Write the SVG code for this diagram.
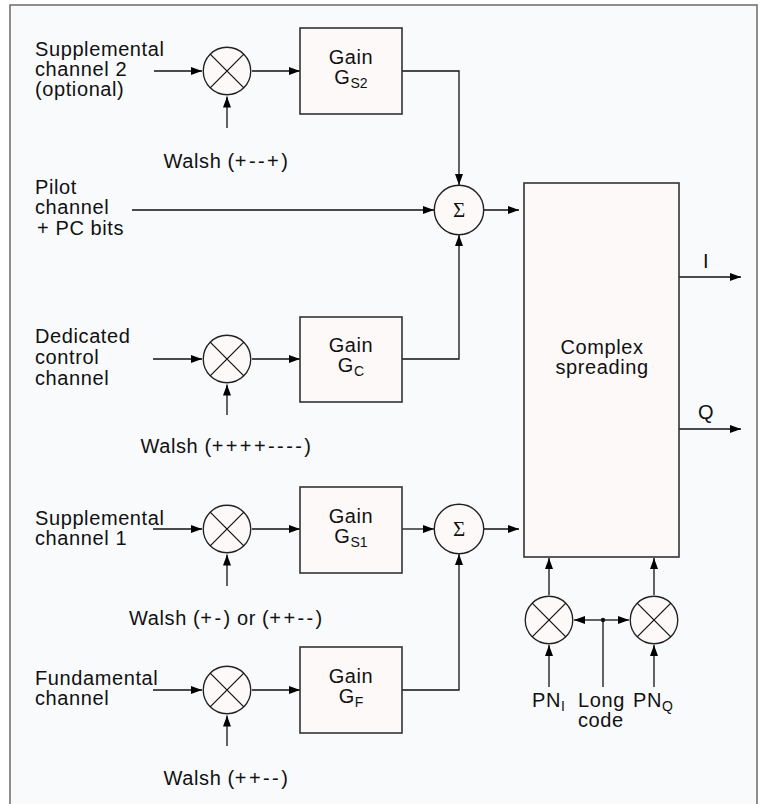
<svg xmlns="http://www.w3.org/2000/svg" width="760" height="804" viewBox="0 0 760 804">
<defs>
<marker id="ah" viewBox="0 0 11 8" refX="11" refY="4" markerWidth="11" markerHeight="8" orient="auto-start-reverse" markerUnits="userSpaceOnUse"><path d="M0,0 L11,4 L0,8 z" fill="#000"/></marker>
<symbol id="mult" viewBox="-26 -26 52 52" overflow="visible"><circle r="24.7" class="node"/><path d="M-17.5,-17.5 L17.5,17.5 M17.5,-17.5 L-17.5,17.5" stroke="#111" stroke-width="1.3"/></symbol>
</defs>
<style>
.bg{fill:#f8fafc;stroke:#6b6b6b;stroke-width:1.5}
.node{fill:#fdf9f9;stroke:#222;stroke-width:1.4}
.box{fill:#fdf9f9;stroke:#333;stroke-width:1.6}
.c{fill:none;stroke:#111;stroke-width:1.3}
.a{marker-end:url(#ah)}
.t{font-family:"Liberation Sans",Arial,sans-serif;font-size:20px;letter-spacing:0.6px;fill:#111}
.m{text-anchor:middle}
.sub{font-size:14px;letter-spacing:0}
.sg{letter-spacing:2.4px}
.sig{font-family:"Liberation Serif","DejaVu Serif",serif;font-size:21px;fill:#111;text-anchor:middle}
</style>
<rect x="10" y="5" width="747" height="820" class="bg"/>

<g id="connectors">
<path class="c a" d="M154,71 H202"/>
<path class="c a" d="M227,128 V96.5"/>
<path class="c a" d="M252,71 H300"/>
<path class="c a" d="M402,71 H459 V185"/>
<path class="c a" d="M132,210 H434"/>
<path class="c a" d="M484,210 H519"/>
<path class="c a" d="M153,359 H202"/>
<path class="c a" d="M227,415 V384.5"/>
<path class="c a" d="M252,359 H300"/>
<path class="c a" d="M402,359 H459 V235"/>
<path class="c a" d="M153,529 H202"/>
<path class="c a" d="M227,586 V554.5"/>
<path class="c a" d="M252,529 H300"/>
<path class="c a" d="M402,529 H434"/>
<path class="c a" d="M484,529 H519"/>
<path class="c a" d="M153,690 H202"/>
<path class="c a" d="M227,746 V715.5"/>
<path class="c a" d="M252,690 H300"/>
<path class="c a" d="M402,690 H459 V554"/>
<path class="c a" d="M679,277 H741"/>
<path class="c a" d="M679,429 H741"/>
<path class="c a" d="M549,595 V558"/>
<path class="c a" d="M654,595 V558"/>
<path class="c a" d="M549,687 V645"/>
<path class="c a" d="M654,687 V645"/>
<path class="c" d="M603,620 V687"/>
<path class="c a" d="M603,620 H574"/>
<path class="c a" d="M603,620 H629"/>
<circle cx="603" cy="620" r="2.2" fill="#111"/>
</g>

<g id="in-sup2"><text class="t" x="35" y="56">Supplemental</text><text class="t" x="35" y="76">channel 2</text><text class="t" x="35" y="96">(optional)</text></g>
<g id="in-pilot"><text class="t" x="35" y="194">Pilot</text><text class="t" x="35" y="214">channel</text><text class="t" x="37" y="235">+ PC bits</text></g>
<g id="in-dcc"><text class="t" x="35" y="343">Dedicated</text><text class="t" x="35" y="364">control</text><text class="t" x="35" y="385">channel</text></g>
<g id="in-sup1"><text class="t" x="35" y="525">Supplemental</text><text class="t" x="35" y="545">channel 1</text></g>
<g id="in-fund"><text class="t" x="35" y="685">Fundamental</text><text class="t" x="35" y="705">channel</text></g>

<g id="mult-sup2"><use href="#mult" x="202" y="46" width="50" height="50"/></g>
<g id="mult-dcc"><use href="#mult" x="202" y="334" width="50" height="50"/></g>
<g id="mult-sup1"><use href="#mult" x="202" y="504" width="50" height="50"/></g>
<g id="mult-fund"><use href="#mult" x="202" y="665" width="50" height="50"/></g>
<g id="mult-pni"><use href="#mult" x="524" y="595" width="50" height="50"/></g>
<g id="mult-pnq"><use href="#mult" x="629" y="595" width="50" height="50"/></g>

<g id="walsh-sup2"><text class="t m" x="226" y="168">Walsh (<tspan class="sg">+--+</tspan>)</text></g>
<g id="walsh-dcc"><text class="t m" x="226" y="453">Walsh (<tspan class="sg">++++----</tspan>)</text></g>
<g id="walsh-sup1"><text class="t m" x="226" y="625">Walsh (<tspan class="sg">+-</tspan>) or (<tspan class="sg">++--</tspan>)</text></g>
<g id="walsh-fund"><text class="t m" x="226" y="785">Walsh (<tspan class="sg">++--</tspan>)</text></g>

<g id="gain-s2"><rect class="box" x="300" y="28" width="102" height="86"/><text class="t m" x="351" y="64">Gain</text><text class="t m" x="351" y="84">G<tspan class="sub" dy="4">S2</tspan></text></g>
<g id="gain-c"><rect class="box" x="300" y="317" width="102" height="85"/><text class="t m" x="351" y="352">Gain</text><text class="t m" x="351" y="372">G<tspan class="sub" dy="4">C</tspan></text></g>
<g id="gain-s1"><rect class="box" x="300" y="487" width="102" height="86"/><text class="t m" x="351" y="523">Gain</text><text class="t m" x="351" y="543">G<tspan class="sub" dy="4">S1</tspan></text></g>
<g id="gain-f"><rect class="box" x="300" y="647" width="102" height="86"/><text class="t m" x="351" y="683">Gain</text><text class="t m" x="351" y="703">G<tspan class="sub" dy="4">F</tspan></text></g>

<g id="sum1"><circle class="node" cx="459" cy="210" r="24.7"/><text class="sig" x="459" y="217">Σ</text></g>
<g id="sum2"><circle class="node" cx="459" cy="529" r="24.7"/><text class="sig" x="459" y="536">Σ</text></g>

<g id="complex"><rect class="box" x="524" y="183" width="155" height="374"/><text class="t m" x="602" y="354">Complex</text><text class="t m" x="602" y="374">spreading</text></g>

<g id="out-i"><text class="t m" x="706" y="268">I</text></g>
<g id="out-q"><text class="t m" x="706" y="419">Q</text></g>

<g id="pn-i"><text class="t" x="532" y="707">PN<tspan class="sub" dy="4">I</tspan></text></g>
<g id="long-code"><text class="t" x="578" y="707">Long</text><text class="t" x="578" y="727">code</text></g>
<g id="pn-q"><text class="t" x="633" y="707">PN<tspan class="sub" dy="4">Q</tspan></text></g>
</svg>
